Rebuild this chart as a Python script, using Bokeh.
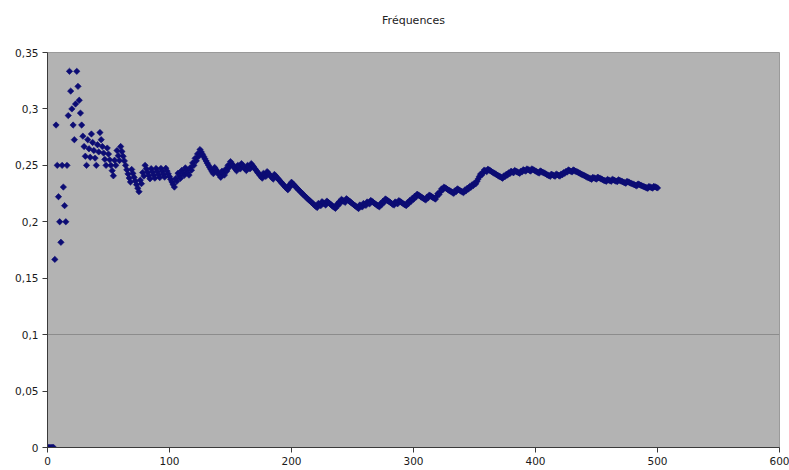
import numpy as np
from bokeh.plotting import figure
from bokeh.models import Range1d, FixedTicker, ColumnDataSource, Title
from bokeh.embed import file_html
from bokeh.resources import INLINE

# ---- data ----
title_text = "Fréquences"
n_trials = 500
# trial numbers at which the event occurred (running frequency = hits so far / trial number)
success_trials = [
    6, 7, 12, 16, 17, 18, 23, 24,
    33, 36, 41, 43, 49,
    55, 57, 60,
    69,
    76, 78, 80,
    85, 89, 93, 97,
    105, 107, 110,
    113,
    117, 119,
    121, 123, 125,
    137,
    143, 146, 148, 150,
    156, 159,
    164, 167,
    177, 180,
    186,
    198, 200,
    222, 225,
    229,
    237, 239, 241,
    245,
    256, 259,
    262, 265,
    273, 275, 277,
    285, 288,
    295, 297, 299, 301, 303,
    311, 313,
    319, 320, 322, 323, 325,
    334, 336,
    342, 344, 346, 348, 350, 352,
    353, 354, 355, 357, 358,
    361,
    374, 376, 378, 380,
    383,
    388, 390, 393,
    397,
    404,
    413, 417,
    421, 423, 425, 427,
    431,
    447, 451,
    459, 463,
    468,
    475,
    484,
    493, 497,
]
x_ticks = [0, 100, 200, 300, 400, 500, 600]
y_ticks = [0, 0.05, 0.1, 0.15, 0.2, 0.25, 0.3, 0.35]
y_tick_labels = ["0", "0,05", "0,1", "0,15", "0,2", "0,25", "0,3", "0,35"]
grid_values = [0.1]

# ---- derived series ----
trial = np.arange(1, n_trials + 1)
hits = np.zeros(n_trials)
hits[np.array(success_trials) - 1] = 1
freq = np.cumsum(hits) / trial
src = ColumnDataSource(dict(n=trial, f=freq))

# ---- figure ----
p = figure(width=789, height=470, output_backend="svg", toolbar_location=None,
           x_range=Range1d(0, 600), y_range=Range1d(0, 0.35),
           min_border_left=47, min_border_right=10, min_border_bottom=23,
           min_border_top=52,
           background_fill_color="#b3b3b3", border_fill_color="white")

p.title.text = ""

# invisible gap panel next to the plot area, then the visible title above it
p.add_layout(Title(text=" ", text_font_size="2px", standoff=22), "above")
p.add_layout(Title(text=title_text, align="center", text_font="DejaVu Sans",
                   text_font_size="11px", text_font_style="normal",
                   text_color="#222222", standoff=0), "above")

p.outline_line_color = "#9a9a9a"

p.scatter("n", "f", source=src, marker="square", angle=np.pi / 4, size=4.5,
          fill_color="#0c0c74", line_color="#0c0c74", line_width=0.6)

for ax in (p.xaxis[0], p.yaxis[0]):
    ax.axis_line_color = "#3a3a3a"
    ax.major_tick_line_color = "#3a3a3a"
    ax.major_tick_out = 5
    ax.major_tick_in = 0
    ax.minor_tick_line_color = None
    ax.major_label_text_font = "DejaVu Sans"
    ax.major_label_text_font_size = "10.5px"
    ax.major_label_text_color = "#1a1a1a"

p.xaxis.ticker = FixedTicker(ticks=x_ticks)
p.xaxis.major_label_standoff = 4
p.yaxis.ticker = FixedTicker(ticks=y_ticks)
p.yaxis.major_label_overrides = {v: s for v, s in zip(y_ticks, y_tick_labels)}
p.yaxis.major_label_standoff = 4

p.xgrid.grid_line_color = None
p.ygrid.ticker = FixedTicker(ticks=grid_values)
p.ygrid.grid_line_color = "#8c8c8c"
p.ygrid.grid_line_width = 1

open("out.html", "w").write(file_html(p, INLINE))
